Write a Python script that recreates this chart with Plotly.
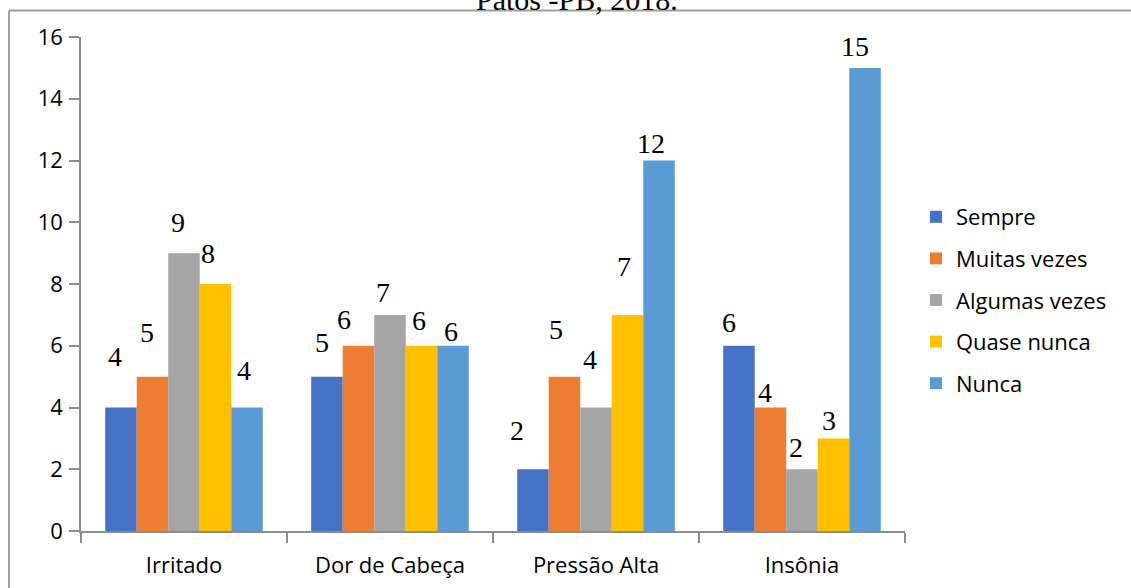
import plotly.graph_objects as go

# Frequência de sintomas por categoria
categories = ["Irritado", "Dor de Cabeça", "Pressão Alta", "Insônia"]
sempre = [4, 5, 2, 6]
muitas_vezes = [5, 6, 5, 4]
algumas_vezes = [9, 7, 4, 2]
quase_nunca = [8, 6, 7, 3]
nunca = [4, 6, 12, 15]

series_names = ["Sempre", "Muitas vezes", "Algumas vezes", "Quase nunca", "Nunca"]
series_values = [sempre, muitas_vezes, algumas_vezes, quase_nunca, nunca]
series_colors = ["#4472C4", "#ED7D31", "#A5A5A5", "#FFC000", "#5B9BD5"]

# pixel nudges (dx, dy) of each value label from its bar's top centre
label_nudges = [
    [(-6, -51), (-5, -34), (-16, -39), (-10, -23)],
    [(-5, -44), (-14, -26), (-8, -47), (-5, -15)],
    [(-6, -31), (-7, -22), (-6, -48), (-6, -22)],
    [(-8, -31), (-3, -25), (-4, -48), (-5, -18)],
    [(-3, -37), (-2, -14), (-8, -17), (-10, -21)],
]

W, H = 1131, 588
M_L, M_R, M_T, M_B = 81, 226, 37, 57
BARGAP = 0.235
plot_w = W - M_L - M_R
plot_h = H - M_T - M_B
cat_px = plot_w / len(categories)
bar_px = cat_px * (1 - BARGAP) / len(series_names)


def px_x(px):
    return (px - M_L) / plot_w


def px_y(py):
    return (H - M_B - py) / plot_h


fig = go.Figure()
for name, vals, col in zip(series_names, series_values, series_colors):
    fig.add_trace(go.Bar(
        x=categories, y=vals, name=name, marker=dict(color=col, line=dict(width=0)),
        legendgroup=name,
    ))

annotations = []
for i, vals in enumerate(series_values):
    for j, v in enumerate(vals):
        dx, dy = label_nudges[i][j]
        annotations.append(dict(
            x=categories[j], y=v, xref="x", yref="y", text=str(v), showarrow=False,
            xanchor="center", yanchor="middle",
            xshift=(i - 2) * bar_px + dx, yshift=-dy,
            font=dict(family="Liberation Serif", size=28, color="#000000"),
        ))

# caption line running off the top edge
annotations.append(dict(
    x=px_x(577), y=px_y(7), xref="paper", yref="paper",
    text="Patos -PB, 2018.", showarrow=False, xanchor="center", yanchor="bottom",
    yshift=-11, font=dict(family="Liberation Serif", size=30, color="#000000"),
))

axis_col = "#8C8C8C"
frame_col = "#A0A0A0"
tick_font = dict(family="Open Sans", size=22, color="#000000")

fig.update_layout(
    width=W, height=H,
    margin=dict(l=M_L, r=M_R, t=M_T, b=M_B, pad=0, autoexpand=False),
    paper_bgcolor="white", plot_bgcolor="white",
    barmode="group", bargap=BARGAP, bargroupgap=0,
    showlegend=True,
    legend=dict(
        x=px_x(916), xanchor="left",
        y=px_y(300), yanchor="middle",
        font=dict(family="Open Sans", size=22, color="#000000"),
        tracegroupgap=10, traceorder="grouped",
        bgcolor="rgba(0,0,0,0)", borderwidth=0,
    ),
    xaxis=dict(
        type="category", showline=True, linecolor=axis_col, linewidth=1.5,
        ticks="outside", tickson="boundaries", ticklen=10, tickcolor=axis_col,
        tickwidth=1.5, showgrid=False, tickfont=tick_font, ticklabelstandoff=14,
        automargin=False,
    ),
    yaxis=dict(
        range=[0, 16], tickvals=list(range(0, 17, 2)), showline=True,
        linecolor=axis_col, linewidth=1.5, ticks="outside", ticklen=10,
        tickcolor=axis_col, tickwidth=1.5, showgrid=False, zeroline=False,
        tickfont=tick_font, ticklabelstandoff=2, automargin=False,
    ),
    annotations=annotations,
    shapes=[
        # outer frame: left and top edges
        dict(type="line", xref="paper", yref="paper",
             x0=px_x(9), x1=px_x(9), y0=px_y(H + 20), y1=px_y(10.5),
             line=dict(color=frame_col, width=2)),
        dict(type="line", xref="paper", yref="paper",
             x0=px_x(9), x1=px_x(W), y0=px_y(10.5), y1=px_y(10.5),
             line=dict(color=frame_col, width=2)),
    ],
)

fig.write_html("out.html")
